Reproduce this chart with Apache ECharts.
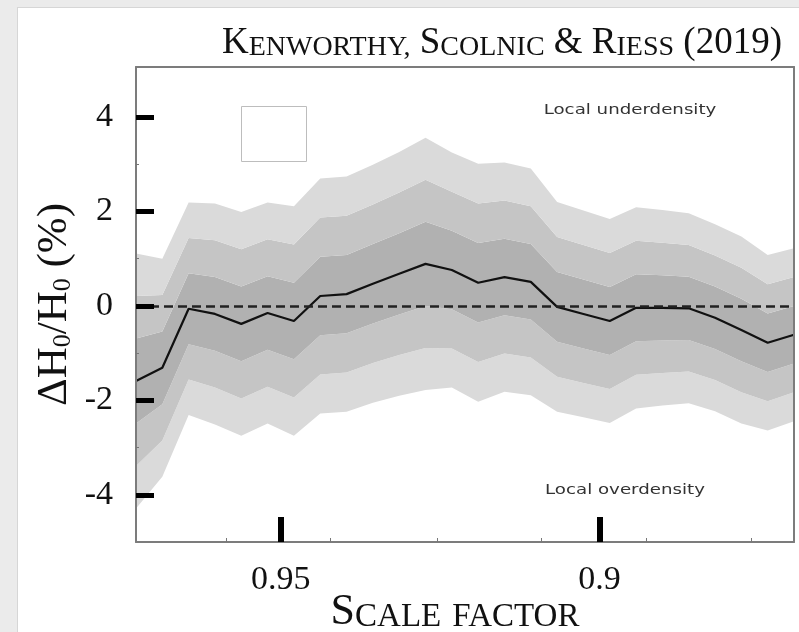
<!DOCTYPE html>
<html>
<head>
<meta charset="utf-8">
<script src="https://cdn.jsdelivr.net/npm/echarts@6/dist/echarts.min.js"></script>
<style>
  html, body { margin: 0; padding: 0; background: #ebebeb; }
  #panel { position: absolute; left: 17px; top: 7px; width: 782px; height: 625px; background: #fff; border-left: 1px solid #d6d6d6; border-top: 1px solid #d6d6d6; }
  #chart { position: absolute; left: 0; top: 0; width: 799px; height: 632px; }
</style>
</head>
<body>
<div id="panel"></div>
<div id="chart"></div>
<script type="text/javascript">
// scale factor of each sample, left to right (axis runs from high to low)
var scaleFactor = [0.9727, 0.9686, 0.9644, 0.9603, 0.9562, 0.9521, 0.9479, 0.9438, 0.9397, 0.9356,
                   0.9314, 0.9273, 0.9232, 0.9191, 0.9149, 0.9108, 0.9067, 0.9025, 0.8984, 0.8943,
                   0.8902, 0.8860, 0.8819, 0.8778, 0.8737, 0.8695];
// mean dH0/H0 in %
var meanShift = [-1.59, -1.31, -0.06, -0.17, -0.38, -0.15, -0.32, 0.21, 0.25, 0.47,
                 0.68, 0.89, 0.76, 0.49, 0.61, 0.51, -0.02, -0.17, -0.32, -0.04,
                 -0.04, -0.05, -0.25, -0.51, -0.78, -0.61];
// 1 sigma width of the shaded bands
var sigma = [0.90, 0.77, 0.75, 0.78, 0.79, 0.78, 0.81, 0.83, 0.83, 0.84,
             0.86, 0.89, 0.83, 0.84, 0.81, 0.80, 0.74, 0.73, 0.72, 0.71,
             0.69, 0.67, 0.66, 0.66, 0.62, 0.61];

var yTicks = [4, 2, 0, -2, -4];
var yMinorTicks = [3, 1, -1, -3];
var xTicks = [0.95, 0.9];
var xMinorTicks = [0.9586, 0.9423, 0.9255, 0.9091, 0.8926, 0.8762];

var xMin = 0.8695, xMax = 0.9727;
var yMin = -5, yMax = 5.06;

var bandLight = '#dadada', bandMid = '#c5c5c5', bandDark = '#b1b1b1';
var serif = 'Liberation Serif';

function scaled(k) {
    var out = [];
    for (var i = 0; i < sigma.length; i++) out.push(sigma[i] * k);
    return out;
}
// lower edge of the 3 sigma band, the rest is stacked on top of it
var base = [];
for (var i = 0; i < meanShift.length; i++) base.push(meanShift[i] - 3 * sigma[i]);

function band(name, vals, color) {
    return {
        name: name, type: 'line', stack: 'band', stackStrategy: 'all',
        data: vals, symbol: 'none', silent: true,
        lineStyle: { width: 0, opacity: 0 },
        areaStyle: { color: color, opacity: 1 }
    };
}

var series = [
    {
        name: 'base', type: 'line', stack: 'band', stackStrategy: 'all',
        data: base, symbol: 'none', silent: true,
        lineStyle: { width: 0, opacity: 0 }
    },
    band('3sig_lo', scaled(1), bandLight),
    band('2sig_lo', scaled(1), bandMid),
    band('1sig', scaled(2), bandDark),
    band('2sig_hi', scaled(1), bandMid),
    band('3sig_hi', scaled(1), bandLight),
    {
        name: 'mean', type: 'line', data: meanShift, symbol: 'none', silent: true, z: 4,
        lineStyle: { color: '#111', width: 2.2 },
        markLine: {
            silent: true, symbol: ['none', 'none'], label: { show: false },
            lineStyle: { color: '#222', width: 2.5, type: [9, 5] },
            data: [{ yAxis: 0 }]
        }
    }
];

function xAx(extra) {
    var a = {
        type: 'value', min: xMin, max: xMax, inverse: true, z: 6,
        splitLine: { show: false },
        axisLine: { show: false, onZero: false },
        axisTick: { show: false },
        axisLabel: { show: false }
    };
    for (var k in extra) a[k] = extra[k];
    return a;
}
function yAx(extra) {
    var a = {
        type: 'value', min: yMin, max: yMax, z: 6,
        splitLine: { show: false },
        axisLine: { show: false, onZero: false },
        axisTick: { show: false },
        axisLabel: { show: false }
    };
    for (var k in extra) a[k] = extra[k];
    return a;
}

var frameLine = { show: true, onZero: false, lineStyle: { color: '#7c7c7c', width: 2 } };

var chart = echarts.init(document.getElementById('chart'), null, { renderer: 'canvas' });
var option = {
    animation: false,
    backgroundColor: 'transparent',
    title: {
        text: '{b|K}{s|ENWORTHY,} {b|S}{s|COLNIC} {b|&} {b|R}{s|IESS} {b|(2019)}',
        right: 12, top: 20,
        textStyle: {
            fontFamily: serif, fontSize: 37, fontWeight: 'normal', color: '#111',
            rich: {
                b: { fontFamily: serif, fontSize: 37, lineHeight: 37, verticalAlign: 'bottom', color: '#111' },
                s: { fontFamily: serif, fontSize: 28, lineHeight: 32, verticalAlign: 'bottom', color: '#111' }
            }
        }
    },
    grid: { left: 136, top: 67, width: 658, height: 475, containLabel: false, outerBoundsMode: 'none' },
    xAxis: [
        {
            // samples are evenly spaced, the series sit on this hidden axis
            type: 'category', data: scaleFactor, boundaryGap: false, show: false
        },
        xAx({
            position: 'bottom',
            axisLine: frameLine,
            axisTick: { show: true, inside: true, length: 25, customValues: xTicks, lineStyle: { color: '#000', width: 6 } },
            axisLabel: { show: true, customValues: xTicks, margin: 21, fontFamily: serif, fontSize: 34, color: '#111' },
            name: '{b|S}{s|CALE} {s|FACTOR}',
            nameLocation: 'middle', nameGap: 48, nameMoveOverlap: false,
            nameTextStyle: {
                fontFamily: serif, fontSize: 44, color: '#111', padding: [0, 20, 0, 0],
                rich: {
                    b: { fontFamily: serif, fontSize: 44, lineHeight: 44, verticalAlign: 'bottom', color: '#111' },
                    s: { fontFamily: serif, fontSize: 33, lineHeight: 38, verticalAlign: 'bottom', color: '#111' }
                }
            }
        }),
        xAx({
            position: 'bottom',
            axisTick: { show: true, inside: true, length: 4, customValues: xMinorTicks, lineStyle: { color: '#777', width: 1 } }
        }),
        xAx({
            position: 'top',
            axisLine: frameLine
        })
    ],
    yAxis: [
        yAx({
            position: 'left',
            axisLine: frameLine,
            axisTick: { show: true, inside: true, length: 18, customValues: yTicks, lineStyle: { color: '#000', width: 5 } },
            axisLabel: { show: true, customValues: yTicks, margin: 23, fontFamily: serif, fontSize: 34, color: '#111' },
            name: '{a|ΔH}{s|0}{a|/H}{s|0}{a| (%)}',
            nameLocation: 'middle', nameGap: 60, nameMoveOverlap: false,
            nameTextStyle: {
                fontFamily: serif, fontSize: 43, color: '#111',
                rich: {
                    a: { fontFamily: serif, fontSize: 43, lineHeight: 43, verticalAlign: 'bottom', color: '#111' },
                    s: { fontFamily: serif, fontSize: 26, lineHeight: 15, verticalAlign: 'bottom', color: '#111' }
                }
            }
        }),
        yAx({
            position: 'left',
            axisTick: { show: true, inside: true, length: 3, customValues: yMinorTicks, lineStyle: { color: '#777', width: 1 } }
        }),
        yAx({
            position: 'right',
            axisLine: frameLine
        })
    ],
    graphic: [
        {
            type: 'rect', shape: { x: 241.5, y: 106.5, width: 65, height: 55 },
            style: { fill: 'none', stroke: '#bdbdbd', lineWidth: 1 }, z: 10
        },
        {
            type: 'text', x: 630, y: 110, scaleX: 1.3, z: 10,
            style: { text: 'Local underdensity', font: '14px "DejaVu Sans"', fill: '#333', align: 'center', verticalAlign: 'middle' }
        },
        {
            type: 'text', x: 625, y: 490, scaleX: 1.3, z: 10,
            style: { text: 'Local overdensity', font: '14px "DejaVu Sans"', fill: '#333', align: 'center', verticalAlign: 'middle' }
        }
    ],
    series: series
};
chart.setOption(option);
</script>
</body>
</html>
